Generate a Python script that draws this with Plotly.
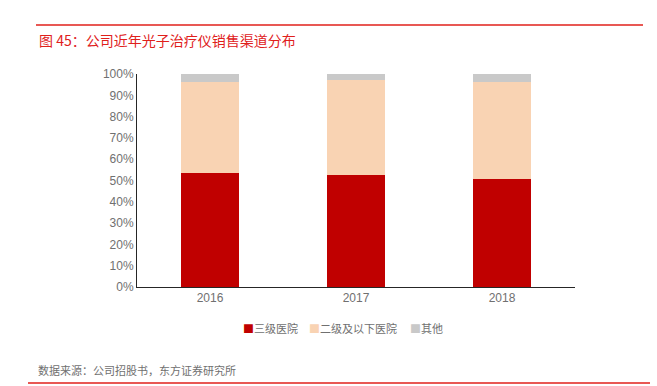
import plotly.graph_objects as go

years = ["2016", "2017", "2018"]
tier3 = [0.533, 0.526, 0.507]
tier2_below = [0.430, 0.446, 0.455]
others = [0.037, 0.028, 0.038]
series_names = ["三级医院", "二级及以下医院", "其他"]
colors = ["#C00000", "#F9D3B3", "#C9C9C9"]
y_ticks = [0, 0.1, 0.2, 0.3, 0.4, 0.5, 0.6, 0.7, 0.8, 0.9, 1.0]

font_family = "Noto Sans CJK SC, Liberation Sans, sans-serif"
tick_family = "Liberation Sans, Noto Sans, sans-serif"
text_gray = "#707070"

fig = go.Figure()
for name, vals, c in zip(series_names, [tier3, tier2_below, others], colors):
    fig.add_trace(go.Bar(x=years, y=vals, name=name, marker=dict(color=c, line=dict(width=0)),
                         width=0.4, showlegend=False))

W, H = 657, 386
L, R, T, B = 137, 82, 74, 99

fig.update_layout(
    width=W, height=H, barmode="stack",
    margin=dict(l=L, r=R, t=T, b=B),
    paper_bgcolor="white", plot_bgcolor="white",
    font=dict(family=font_family, size=12, color=text_gray),
    showlegend=False,
    xaxis=dict(showline=True, linecolor="#262626", linewidth=1, ticks="", showgrid=False,
               tickfont=dict(size=12, color=text_gray, family=tick_family)),
    yaxis=dict(range=[0, 1.0], tickvals=y_ticks, tickformat=".0%", showline=True,
               linecolor="#262626", linewidth=1, ticks="", showgrid=False, zeroline=False,
               tickfont=dict(size=12, color=text_gray, family=tick_family)),
)

def px(x):
    return (x - L) / (W - L - R)

def py(y):
    return (H - B - y) / (H - T - B)

fig.add_shape(type="line", xref="paper", yref="paper", x0=px(36), x1=px(643), y0=py(25), y1=py(25),
              line=dict(color="#E0201B", width=1.5))
fig.add_shape(type="line", xref="paper", yref="paper", x0=px(28), x1=px(650), y0=py(383), y1=py(383),
              line=dict(color="#E0201B", width=1.5))
fig.add_annotation(xref="paper", yref="paper", x=px(37), y=py(40), xanchor="left", yanchor="middle",
                   text="图 45：公司近年光子治疗仪销售渠道分布", showarrow=False,
                   font=dict(size=14, color="#E0201B", family=font_family))
fig.add_annotation(xref="paper", yref="paper", x=px(36), y=py(370), xanchor="left", yanchor="middle",
                   text="数据来源：公司招股书，东方证券研究所", showarrow=False,
                   font=dict(size=11, color=text_gray, family=font_family))

# manual legend built from series names / colors
legend_x = [241, 307, 408]
for name, c, lx in zip(series_names, colors, legend_x):
    fig.add_annotation(xref="paper", yref="paper", x=px(lx), y=py(328), xanchor="left", yanchor="middle",
                       text=f'<span style="color:{c}">■</span>{name}', showarrow=False,
                       font=dict(size=11, color=text_gray, family=font_family))

fig.write_html("out.html", post_script="document.body.style.margin='0';",
               config={"displayModeBar": False})
